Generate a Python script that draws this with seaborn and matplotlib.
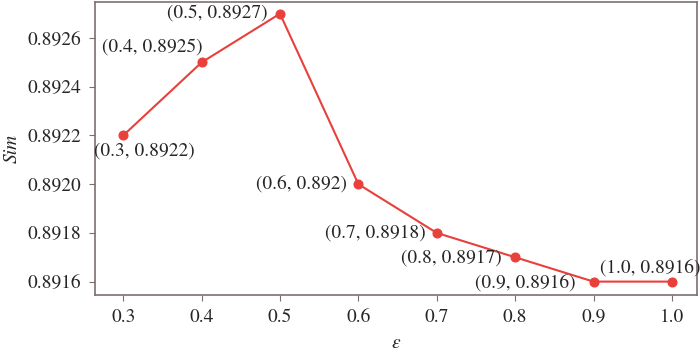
import matplotlib
matplotlib.use("Agg")
import matplotlib.pyplot as plt
import pandas as pd
import seaborn as sns

eps = [0.3, 0.4, 0.5, 0.6, 0.7, 0.8, 0.9, 1.0]
sim = [0.8922, 0.8925, 0.8927, 0.8920, 0.8918, 0.8917, 0.8916, 0.8916]
labels = ["(0.3, 0.8922)", "(0.4, 0.8925)", "(0.5, 0.8927)", "(0.6, 0.892)",
          "(0.7, 0.8918)", "(0.8, 0.8917)", "(0.9, 0.8916)", "(1.0, 0.8916)"]

# label placement (pixels) and alignment per point
offsets = [(21, -15), (1, 15), (-12, 1), (-11, 0), (-11, 0), (-14, -1), (-18, -1), (-22, 14)]
aligns = ["center", "right", "right", "right", "right", "right", "right", "center"]

df = pd.DataFrame({"eps": eps, "Sim": sim})

sns.set_style("ticks")
plt.rcParams["font.family"] = ["TeX Gyre Termes", "Liberation Serif", "STIXGeneral", "DejaVu Serif"]
plt.rcParams["mathtext.fontset"] = "stix"

red = "#e8403a"
spine = "#7d6e6e"

fig = plt.figure(figsize=(7, 3.53), dpi=100)
ax = fig.add_axes([0.1357, 0.1643, 0.86, 0.83])

sns.lineplot(data=df, x="eps", y="Sim", ax=ax, color=red, linewidth=1.5,
             marker="o", markersize=6.5, markeredgecolor=red)

for x, y, t, (dx, dy), ha in zip(eps, sim, labels, offsets, aligns):
    ax.annotate(t, (x, y), xytext=(dx, dy), textcoords="offset pixels",
                ha=ha, va="center", fontsize=14)

ax.set_xlim(0.264, 1.032)
ax.set_ylim(0.891545, 0.892748)
ax.set_xticks(eps)
ax.set_xticklabels([f"{v:.1f}" for v in eps])
ax.set_yticks([0.8916, 0.8918, 0.8920, 0.8922, 0.8924, 0.8926])
ax.set_yticklabels(["0.8916", "0.8918", "0.8920", "0.8922", "0.8924", "0.8926"])
ax.tick_params(labelsize=14, length=4, color=spine, pad=6)

for s in ax.spines.values():
    s.set_color(spine)
    s.set_linewidth(1.2)

ax.set_xlabel(r"$\varepsilon$", fontsize=14, labelpad=6)
ax.set_ylabel("Sim", fontsize=14, style="italic", labelpad=5)

fig.savefig("out.png", dpi=100)
